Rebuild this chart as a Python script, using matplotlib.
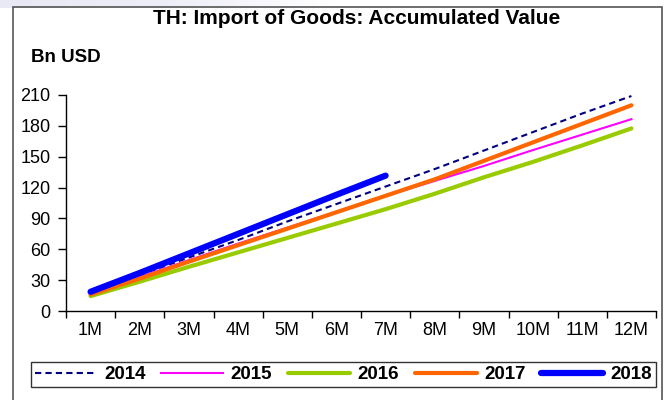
#!/usr/bin/env python3

# accumulated goods imports, Thailand, by year

import matplotlib.pyplot as plt
from matplotlib.colors import LinearSegmentedColormap
from matplotlib.patches import Rectangle
import numpy as np

plt.rcParams['font.family'] = ['Liberation Sans', 'DejaVu Sans']

months = ['1M', '2M', '3M', '4M', '5M', '6M', '7M', '8M', '9M', '10M', '11M', '12M']

imp_2014 = [17.5, 35, 52, 69, 87, 104, 121, 138, 156, 174, 192, 209]
imp_2015 = [16.5, 33, 49.5, 65.5, 81, 96.5, 112, 126.5, 141, 156.5, 171.5, 186.5]
imp_2016 = [14.5, 28.5, 43, 57, 71, 85, 99, 114, 130, 145, 161, 177.5]
imp_2017 = [16, 31.5, 48, 64, 80, 96, 112, 128, 146, 164, 182, 200]
imp_2018 = [18.7, 37, 56, 75, 94, 113, 131.6]

W, H = 669, 400
fig = plt.figure(figsize=(W / 100, H / 100), dpi=100)

# faint shaded strip above the frame
strip = fig.add_axes([0, 1 - 8 / H, 0.5, 8 / H])
grad = np.linspace(0, 1, 256)[None, :]
strip.imshow(grad, aspect='auto', extent=[0, 1, 0, 1],
             cmap=LinearSegmentedColormap.from_list('strip', ['#e9e9f5', '#eeeef8', '#ffffff']))
strip.axis('off')

# outer frame
fig.patches.append(Rectangle((13 / W, -0.05), (662 - 13) / W, 1 - 7 / H + 0.05,
                             transform=fig.transFigure, fill=False,
                             edgecolor='#555555', linewidth=1.2))

ax = fig.add_axes([66 / W, 1 - 311 / H, (656 - 66) / W, (311 - 95) / H])

x = np.arange(len(months)) + 0.5
ax.plot(x, imp_2014, color='#000080', lw=1.5, ls=(0, (3, 2)), label='2014')
ax.plot(x, imp_2015, color='#ff00ff', lw=1.5, label='2015')
ax.plot(x, imp_2016, color='#99cc00', lw=3, label='2016', solid_capstyle='round')
ax.plot(x, imp_2017, color='#ff6600', lw=3, label='2017', solid_capstyle='round')
ax.plot(x[:len(imp_2018)], imp_2018, color='#0000ff', lw=4.5, label='2018',
        solid_capstyle='round')

ax.set_xlim(0, 12)
ax.set_ylim(0, 210)
ax.set_yticks(np.arange(0, 211, 30))
ax.set_xticks(np.arange(0, 13))
ax.set_xticklabels([])
ax.set_xticks(x, minor=True)
ax.set_xticklabels(months, minor=True)
ax.tick_params(axis='x', which='minor', length=0, pad=8, labelsize=13)
ax.tick_params(axis='x', which='major', direction='out', length=5, width=1)
ax.tick_params(axis='y', direction='out', length=6, width=1, labelsize=13, pad=5)
for s in ['top', 'right']:
    ax.spines[s].set_visible(False)
for s in ['left', 'bottom']:
    ax.spines[s].set_linewidth(1)

fig.text(357 / W, 1 - 19 / H, 'TH: Import of Goods: Accumulated Value',
         ha='center', va='center', fontsize=15, fontweight='bold')
fig.text(31 / W, 1 - 57 / H, 'Bn USD', ha='left', va='center',
         fontsize=13.5, fontweight='bold')

leg = fig.legend(loc='center', ncol=5, mode='expand',
                 bbox_to_anchor=(31 / W, 1 - 387 / H, 625 / W, 25 / H),
                 prop={'weight': 'bold', 'size': 13.5}, handlelength=3.3,
                 handletextpad=0.4, columnspacing=0.7, borderpad=0.2,
                 fancybox=False, frameon=True, borderaxespad=0)
leg.get_frame().set_edgecolor('black')
leg.get_frame().set_linewidth(1)

fig.savefig('out.png', dpi=100)
